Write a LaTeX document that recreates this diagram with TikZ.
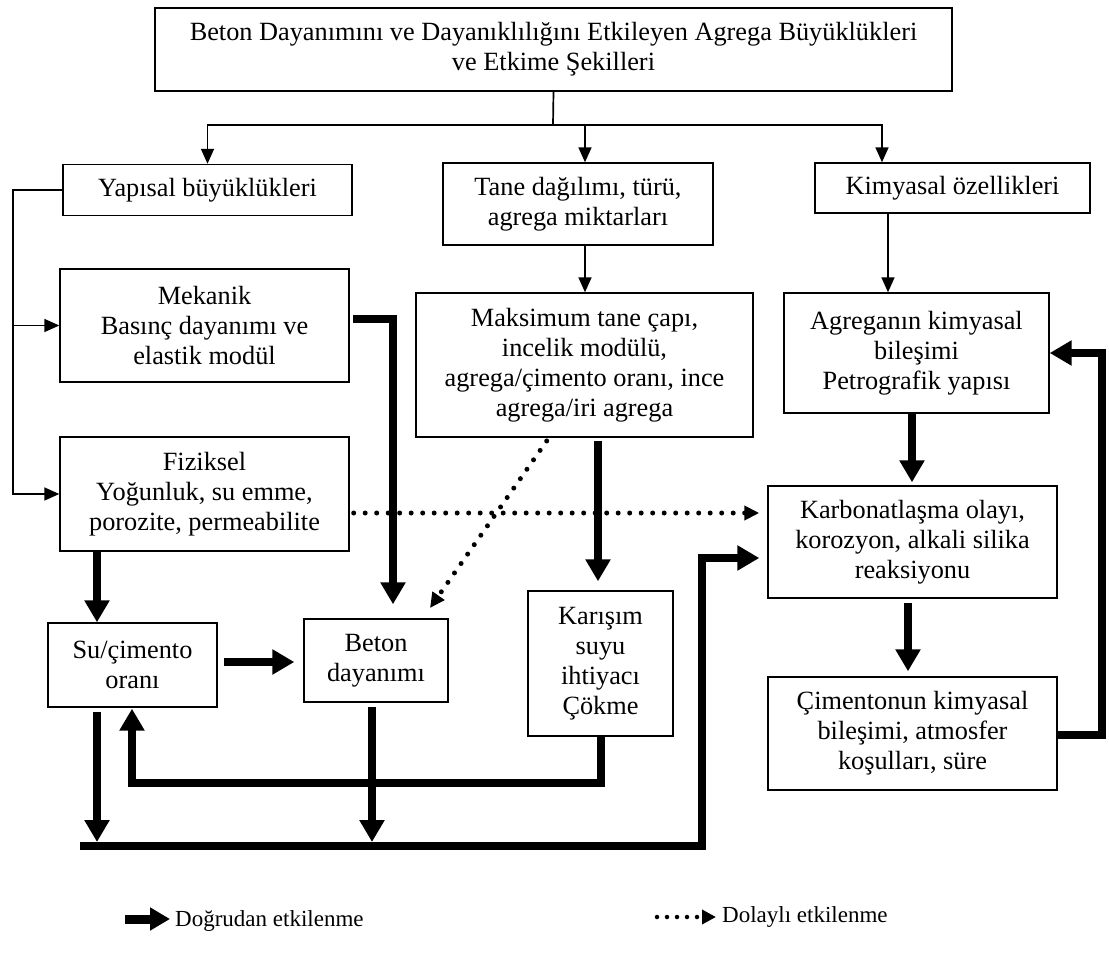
\documentclass[tikz,border=0pt]{standalone}
\usepackage{fontspec}
\setmainfont{Liberation Serif}
\usetikzlibrary{arrows.meta}
\begin{document}
\begin{tikzpicture}[x=1pt,y=-1pt,
  box/.style={draw, line width=1.4pt, align=center, inner sep=0pt, font=\fontsize{26.3}{30}\selectfont},
  tline/.style={line width=1.7pt},
  tarr/.style={line width=1.7pt, -{Triangle[width=13pt,length=15pt]}},
  karr/.style={line width=8pt, -{Triangle[width=24pt,length=22pt]}},
  darr/.style={line width=5pt, line cap=round, dash pattern=on 0pt off 11.5pt, -{Triangle[width=14pt,length=15pt]}},
  lgtext/.style={anchor=west, inner sep=0pt, font=\fontsize{23}{27}\selectfont}
]
\useasboundingbox (0,0) rectangle (1109,957);

% boxes
\node[box, minimum width=797pt, minimum height=83pt] (top) at (553.5,49.5)
  {Beton Dayanımını ve Dayanıklılığını Etkileyen Agrega Büyüklükleri\\ve Etkime Şekilleri};
\node[box, minimum width=289pt, minimum height=51pt] (yap) at (207.5,190) {Yapısal büyüklükleri};
\node[box, minimum width=270pt, minimum height=82pt] (tane) at (578,204) {Tane dağılımı, türü,\\agrega miktarları};
\node[box, minimum width=275pt, minimum height=50pt] (kim) at (952.5,188) {Kimyasal özellikleri};
\node[box, minimum width=289pt, minimum height=113pt] (mek) at (204.5,325.5) {Mekanik\\Basınç dayanımı ve\\elastik modül};
\node[box, minimum width=289pt, minimum height=114pt] (fiz) at (204.5,494) {Fiziksel\\Yoğunluk, su emme,\\porozite, permeabilite};
\node[box, minimum width=337pt, minimum height=144pt] (maks) at (584.5,365) {Maksimum tane çapı,\\incelik modülü,\\agrega/çimento oranı, ince\\agrega/iri agrega};
\node[box, minimum width=265pt, minimum height=120pt] (agr) at (916.5,353) {Agreganın kimyasal\\bileşimi\\Petrografik yapısı};
\node[box, minimum width=289pt, minimum height=112pt] (karb) at (912.5,542) {Karbonatlaşma olayı,\\korozyon, alkali silika\\reaksiyonu};
\node[box, minimum width=289pt, minimum height=113pt] (cim) at (912.5,733.5) {Çimentonun kimyasal\\bileşimi, atmosfer\\koşulları, süre};
\node[box, minimum width=169pt, minimum height=84pt] (su) at (132.5,665) {Su/çimento\\oranı};
\node[box, minimum width=144pt, minimum height=83pt] (beton) at (376,660.5) {Beton\\dayanımı};
\node[box, minimum width=145pt, minimum height=145pt] (kar) at (600.5,663.5) {Karışım\\suyu\\ihtiyacı\\Çökme};

% helper coordinates
\coordinate (j) at (553,125);
\coordinate (kx) at (882,0);
\coordinate (tx2) at (585,0);
\coordinate (bk) at (13,190);
\coordinate (my) at (0,319);
\coordinate (mbx) at (393,0);
\coordinate (sux) at (97,0);
\coordinate (sy) at (0,662);
\coordinate (k1) at (598,0);
\coordinate (dd) at (549,0);
\coordinate (dt) at (430,608);
\coordinate (dy) at (0,513);
\coordinate (fb) at (132,783);
\coordinate (bx) at (372,0);
\coordinate (bl) at (0,846);
\coordinate (blL) at (80,846);
\coordinate (blR) at (702,846);
\coordinate (kj) at (0,558);
\coordinate (a1) at (912,0);
\coordinate (c1) at (908,0);
\coordinate (fr) at (1102,735);
\coordinate (ay) at (0,353);
\coordinate (tx) at (888,0);

% thin tree connectors
\draw[tline] (top.south) -- (j);
\draw[tarr] (j) -| (yap.north);
\draw[tarr] (j) -| (tx2 |- tane.north);
\draw[tarr] (j) -| (kx |- kim.north);
\draw[tarr] (yap.west) -- (bk) |- (fiz.west);
\draw[tarr] (mek.west -| bk) -- (mek.west);
\draw[tarr] (tane.south -| tx2) -- (maks.north -| tx2);
\draw[tarr] (kim.south -| tx) -- (agr.north -| tx);

% thick connectors
\draw[karr, shorten <=3pt, shorten >=14pt] (mek.east |- my) -| (mbx |- beton.north);
\draw[karr] (fiz.south -| sux) -- (su.north -| sux);
\draw[karr, shorten <=6pt, shorten >=9pt] (su.east |- sy) -- (beton.west |- sy);
\draw[karr, shorten <=3pt, shorten >=9pt] (maks.south -| k1) -- (kar.north -| k1);
\draw[karr, shorten >=1pt] (kar.south) |- (fb) -- (su.south -| fb);
\draw[karr, shorten <=4pt, shorten >=4pt] (su.south -| sux) -- (sux |- bl);
\draw[karr, shorten <=4pt, shorten >=4pt] (beton.south -| bx) -- (bx |- bl);
\draw[karr, shorten >=8pt] (blL) -- (blR) -- (blR |- kj) -- (karb.west |- kj);
\draw[karr, shorten >=3pt] (agr.south -| a1) -- (karb.north -| a1);
\draw[karr, shorten <=4pt, shorten >=5pt] (karb.south -| c1) -- (cim.north -| c1);
\draw[karr] (cim.east |- fr) -- (fr) |- (agr.east |- ay);

% dotted connectors
\draw[darr, shorten <=4pt] (maks.south -| dd) -- (dt);
\draw[darr, shorten <=4pt, shorten >=8pt] (fiz.east |- dy) -- (karb.west |- dy);

% legend
\coordinate (lg1) at (125,919);
\coordinate (lg2) at (170,919);
\draw[line width=9pt, -{Triangle[width=22pt,length=20pt]}] (lg1) -- (lg2);
\node[lgtext] (lt1) at (175,921) {Doğrudan etkilenme};
\coordinate (lg3) at (657,917);
\coordinate (lg4) at (716,917);
\draw[line width=4.5pt, line cap=round, dash pattern=on 0pt off 10pt, -{Triangle[width=14pt,length=14pt]}] (lg3) -- (lg4);
\node[lgtext] (lt2) at (722,917) {Dolaylı etkilenme};
\end{tikzpicture}
\end{document}
